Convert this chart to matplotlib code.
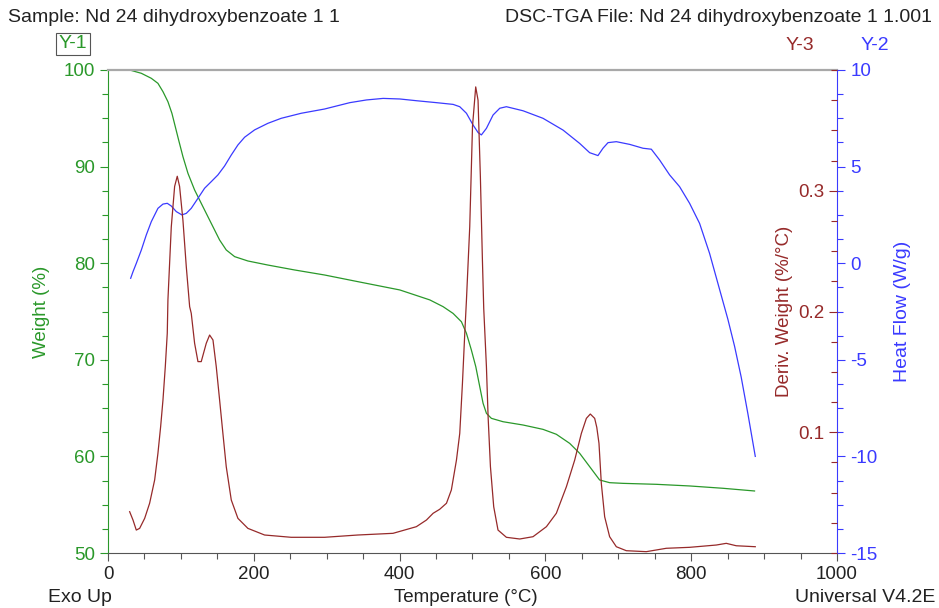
import numpy as np
import matplotlib
matplotlib.use('Agg')
import matplotlib.pyplot as plt
from matplotlib.ticker import MultipleLocator, FixedLocator

# values
# weight curve (Y-1)
temp_w = [29.7, 45.7, 59.4, 68.5, 75.4, 82.2, 87.7, 92.3, 96.9, 102.8, 109.7, 118.8,
          130.2, 141.6, 153.1, 162.2, 173.7, 191.9, 219.3, 255.9, 297, 342.7, 400.3,
          441.4, 459.7, 473.4, 484.8, 491.7, 498.5, 504.5, 510, 514.5, 519.1, 525.9,
          541.9, 569.3, 596.7, 615, 633.3, 647, 660.7, 674.4, 688.1, 706.4, 752.1,
          797.8, 843.5, 886.9]
weight = [100, 99.66, 99.14, 98.62, 97.76, 96.72, 95.51, 94.13, 92.75, 91.03, 89.3,
          87.58, 85.85, 84.13, 82.4, 81.37, 80.68, 80.23, 79.81, 79.3, 78.78, 78.09,
          77.23, 76.2, 75.5, 74.8, 73.94, 72.74, 71.0, 69.29, 67.2, 65.5, 64.46, 63.94,
          63.59, 63.25, 62.8, 62.29, 61.35, 60.32, 58.94, 57.56, 57.28, 57.21, 57.11,
          56.94, 56.7, 56.42]

# heat flow (Y-2)
temp_hf = [31.1, 34.3, 38.8, 45.7, 52.5, 59.4, 68.5, 75.4, 81.3, 86.8, 93.7, 101.4,
           107.4, 114.2, 123.4, 132.5, 141.6, 150.8, 159.9, 169.1, 178.2, 187.4, 201.1,
           219.3, 237.6, 265, 297, 331.7, 354.6, 377.4, 400.3, 423.1, 450.5, 473.4,
           482.5, 491.7, 500.8, 507.7, 512.2, 519.1, 528.2, 537.4, 546.5, 569.3, 596.7,
           624.2, 647, 660.7, 669.9, 672.1, 679, 685.9, 697.3, 715.6, 733.9, 745.3,
           756.7, 770.4, 784.1, 797.8, 811.5, 825.2, 836.6, 850.3, 859.5, 868.6,
           877.8, 887.9]
heatflow = [-0.78, -0.44, -0.01, 0.68, 1.46, 2.15, 2.84, 3.06, 3.1, 2.96, 2.67, 2.5,
            2.58, 2.84, 3.36, 3.88, 4.22, 4.57, 5.03, 5.6, 6.12, 6.52, 6.9, 7.24, 7.5,
            7.76, 7.98, 8.31, 8.45, 8.53, 8.5, 8.41, 8.31, 8.22, 8.1, 7.76, 7.15, 6.76,
            6.64, 6.98, 7.67, 8.02, 8.1, 7.89, 7.5, 6.89, 6.2, 5.72, 5.6, 5.57, 5.95,
            6.24, 6.29, 6.15, 5.95, 5.9, 5.34, 4.57, 3.96, 3.1, 2.06, 0.51, -1.04,
            -2.9, -4.3, -5.9, -7.8, -10.0]

# derivative weight (Y-3)
temp_d = [29.7, 34.3, 38.8, 43.4, 50.3, 57.1, 64, 68.5, 72.2, 75.4, 78.6, 81.3, 82.2,
          86.8, 91.4, 95, 98.2, 102.8, 107.4, 112, 114.2, 118.8, 123.4, 127.9, 134.8,
          139.4, 144, 148.5, 153.1, 157.6, 162.2, 169.1, 178.2, 191.9, 214.8, 251.3,
          297, 342.7, 391, 423, 436.8, 446, 455, 464.3, 471, 478, 482.5, 486.2, 489.4,
          491.7, 496.2, 500, 504.4, 507.6, 510.8, 513.6, 515.4, 519.1, 521.4,
          524.6, 529.1, 535, 546.5, 564.8, 583, 601.4, 615, 628.8, 640.2, 649.3, 656.2,
          661.6, 667.6, 670.5, 673.5, 676.7, 681.3, 688.1, 697.3, 711, 738.4, 765.8,
          797.8, 834.4, 848.1, 861.8, 887.9]
deriv = [0.0342, 0.0273, 0.019, 0.0204, 0.0287, 0.0412, 0.0605, 0.0826, 0.1046,
         0.1267, 0.1543, 0.182, 0.2095, 0.270, 0.3036, 0.312, 0.3036, 0.2755, 0.237,
         0.204, 0.1985, 0.1737, 0.1585, 0.1585, 0.1737, 0.1805, 0.1764, 0.1543, 0.1267,
         0.0991, 0.0715, 0.0439, 0.0287, 0.0204, 0.0149, 0.013, 0.013, 0.0149, 0.0163,
         0.0218, 0.0273, 0.0329, 0.0362, 0.0412, 0.0522, 0.077, 0.099, 0.1405, 0.182,
         0.2095, 0.270, 0.3533, 0.386, 0.375, 0.3117, 0.2426, 0.2026, 0.1543,
         0.1129, 0.0715, 0.0383, 0.019, 0.013, 0.0116, 0.0135, 0.0218, 0.0329, 0.0549,
         0.077, 0.099, 0.1115, 0.1151, 0.1115, 0.104, 0.0908, 0.0577, 0.030, 0.0135,
         0.0052, 0.0019, 0.0011, 0.0039, 0.0047, 0.0066, 0.008, 0.006, 0.0052]

green = '#2a982a'
blue = '#3a3aff'
red = '#962a2a'
grey_txt = '#222222'

plt.rcParams['font.family'] = ['Liberation Sans', 'DejaVu Sans']
plt.rcParams['axes.unicode_minus'] = False

fig = plt.figure(figsize=(9.39, 6.08), dpi=100)
ax = fig.add_axes([108/939, 1-553/608, (837-108)/939, (553-70)/608])

ax.plot(temp_w, weight, color=green, lw=0.9)
ax.set_xlim(0, 1000)
ax.set_ylim(50, 100)
ax.xaxis.set_major_locator(MultipleLocator(200))
ax.xaxis.set_minor_locator(MultipleLocator(50))
ax.yaxis.set_major_locator(MultipleLocator(10))
ax.yaxis.set_minor_locator(MultipleLocator(2.5))
ax.tick_params(axis='y', colors=green, labelsize=13.5, length=6, width=0.8)
ax.tick_params(axis='y', which='minor', colors=green, length=4, width=0.8)
ax.tick_params(axis='x', colors='#555555', labelcolor=grey_txt, labelsize=13.5, length=6, width=0.8)
ax.tick_params(axis='x', which='minor', colors='#555555', length=4, width=0.8)
ax.spines['left'].set_color(green)
ax.spines['bottom'].set_color('#555555')
ax.spines['top'].set_color('#a8a8a8')
ax.spines['top'].set_linewidth(1.6)
ax.spines['right'].set_visible(False)
ax.set_ylabel('Weight (%)', color=green, fontsize=13.5, labelpad=10)
ax.set_xlabel('Temperature (°C)', color=grey_txt, fontsize=13.5, labelpad=2)
ax.xaxis.set_label_coords(0.5 - 7/729, -0.075)

# heat flow axis on the right
ax2 = ax.twinx()
ax2.plot(temp_hf, heatflow, color=blue, lw=0.9)
ax2.set_ylim(-15, 10)
ax2.yaxis.set_major_locator(MultipleLocator(5))
ax2.yaxis.set_minor_locator(MultipleLocator(1.25))
ax2.tick_params(axis='y', colors=blue, labelsize=13.5, length=6, width=0.8)
ax2.tick_params(axis='y', which='minor', colors=blue, length=4, width=0.8)
for s in ['left', 'top', 'bottom']:
    ax2.spines[s].set_visible(False)
ax2.spines['right'].set_color(blue)
ax2.set_ylabel('Heat Flow (W/g)', color=blue, fontsize=14, labelpad=12)

# deriv weight axis, same spine but labels inside
ax3 = ax.twinx()
ax3.plot(temp_d, deriv, color=red, lw=0.9)
ax3.set_ylim(0, 0.4)
ax3.yaxis.set_ticks_position('left')
ax3.yaxis.set_label_position('left')
ax3.spines['left'].set_position(('axes', 1.0))
for s in ['right', 'top', 'bottom', 'left']:
    ax3.spines[s].set_visible(False)
ax3.yaxis.set_major_locator(FixedLocator([0.1, 0.2, 0.3]))
ax3.yaxis.set_minor_locator(MultipleLocator(0.025))
ax3.tick_params(axis='y', colors=red, labelsize=13.5, length=6, width=0.8, pad=3)
ax3.tick_params(axis='y', which='minor', colors=red, length=4, width=0.8)
ax3.set_ylabel('Deriv. Weight (%/°C)', color=red, fontsize=13.5, labelpad=4)

fig.text(8/939, 1-17/608, 'Sample: Nd 24 dihydroxybenzoate 1 1', ha='left', va='center',
         color=grey_txt, fontsize=14)
fig.text(932/939, 1-17/608, 'DSC-TGA File: Nd 24 dihydroxybenzoate 1 1.001', ha='right',
         va='center', color=grey_txt, fontsize=14)
fig.text(73/939, 1-44/608, 'Y-1', ha='center', va='center', color=green, fontsize=14,
         bbox=dict(boxstyle='square,pad=0.12', fc='white', ec='#555555', lw=0.8))
fig.text(800/939, 1-45/608, 'Y-3', ha='center', va='center', color=red, fontsize=14)
fig.text(875/939, 1-45/608, 'Y-2', ha='center', va='center', color=blue, fontsize=14)
fig.text(48/939, 1-598/608, 'Exo Up', ha='left', va='center', color=grey_txt, fontsize=14)
fig.text(935/939, 1-598/608, 'Universal V4.2E', ha='right', va='center', color=grey_txt,
         fontsize=14)

fig.savefig('out.png', dpi=100)
